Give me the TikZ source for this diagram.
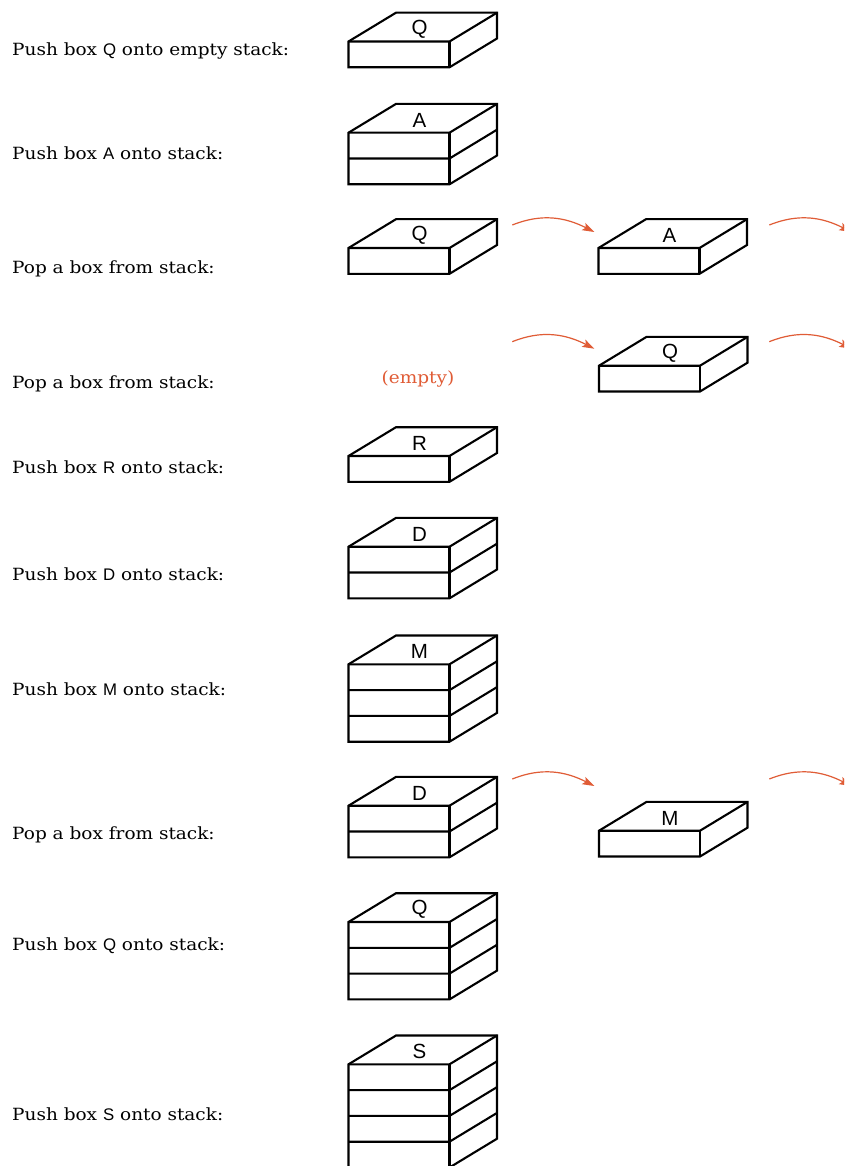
\documentclass[tikz,border=0pt]{standalone}
\usepackage{fontspec}
\setmainfont{DejaVu Serif}[FakeStretch=1.1]
\newfontfamily\boxfont{Liberation Sans}
\usetikzlibrary{arrows.meta}
\definecolor{popc}{RGB}{224,92,54}
\newcommand\drawstack[5]{% #1 x0, #2 y0 (front top), #3 layers, #4 letter, #5 name
  \begin{scope}[shift={(#1,#2)}]
    \pgfmathsetmacro\hh{#3*25.8}
    \draw[boxline] (0,0) -- (47.5,-28.8) -- (148.5,-28.8) -- (148.5,\hh-28.8) -- (101,\hh) -- (0,\hh) -- cycle;
    \draw[boxline] (0,0) -- (101,0) -- (148.5,-28.8);
    \draw[boxline] (101,0) -- (101,\hh);
    \ifnum#3>1
      \foreach \k in {2,...,#3}{
        \pgfmathsetmacro\yy{(\k-1)*25.8}
        \draw[boxline] (0,\yy) -- (101,\yy) -- (148.5,\yy-28.8);
      }
    \fi
    \node[boxlabel] (#5) at (71,-12.5) {#4};
  \end{scope}}
\newcommand\poparrows[2]{% #1 y start, #2 name
  \coordinate (#2a) at (512.3,#1);
  \coordinate (#2b) at (594.3,#1+7);
  \coordinate (#2c) at (769.3,#1);
  \coordinate (#2d) at (851.3,#1+7);
  \draw[poparrow] (#2a) to[out=22,in=153] (#2b);
  \draw[poparrow] (#2c) to[out=22,in=153] (#2d);}
\tikzset{
  boxline/.style={line width=2.1pt, line join=miter},
  boxlabel/.style={font=\boxfont\fontsize{20.5}{20.5}\selectfont, inner sep=0pt},
  rowlabel/.style={font=\fontsize{16.8}{20}\selectfont, anchor=base west, inner sep=0pt},
  poparrow/.style={draw=popc, line width=1.2pt, -{Stealth[length=12pt,width=8pt,inset=2.5pt]}},
}
\begin{document}
\begin{tikzpicture}[x=1pt,y=-1pt]
\useasboundingbox (0,0) rectangle (844,1166);
\clip (0,0) rectangle (844,1166);
\fill[white] (0,0) rectangle (844,1166);
% row labels
\node[rowlabel] (l1) at (12,56) {Push box {\boxfont Q} onto empty stack:};
\node[rowlabel] (l2) at (12,160) {Push box {\boxfont A} onto stack:};
\node[rowlabel] (l3) at (12,273) {Pop a box from stack:};
\node[rowlabel] (l4) at (12,388) {Pop a box from stack:};
\node[rowlabel] (l5) at (12,473) {Push box {\boxfont R} onto stack:};
\node[rowlabel] (l6) at (12,580) {Push box {\boxfont D} onto stack:};
\node[rowlabel] (l7) at (12,695) {Push box {\boxfont M} onto stack:};
\node[rowlabel] (l8) at (12,839) {Pop a box from stack:};
\node[rowlabel] (l9) at (12,950) {Push box {\boxfont Q} onto stack:};
\node[rowlabel] (l10) at (12,1120) {Push box {\boxfont S} onto stack:};
% stacks
\drawstack{348.5}{41.5}{1}{Q}{s1}
\drawstack{348.5}{132.7}{2}{A}{s2}
\drawstack{348.5}{248}{1}{Q}{s3}
\drawstack{598.5}{248}{1}{A}{p3}
\node[font=\fontsize{16.8}{20}\selectfont, text=popc, anchor=base] (e4) at (418,383) {(empty)};
\drawstack{599}{365.7}{1}{Q}{p4}
\drawstack{348.5}{456}{1}{R}{s5}
\drawstack{348.5}{546.7}{2}{D}{s6}
\drawstack{348.5}{664.3}{3}{M}{s7}
\drawstack{348.5}{805.7}{2}{D}{s8}
\drawstack{599}{830.7}{1}{M}{p8}
\drawstack{348.5}{922}{3}{Q}{s9}
\drawstack{348.5}{1064.3}{4}{S}{s10}
% arrows
\poparrows{225}{r3}
\poparrows{341.7}{r4}
\poparrows{779}{r8}
\end{tikzpicture}
\end{document}
